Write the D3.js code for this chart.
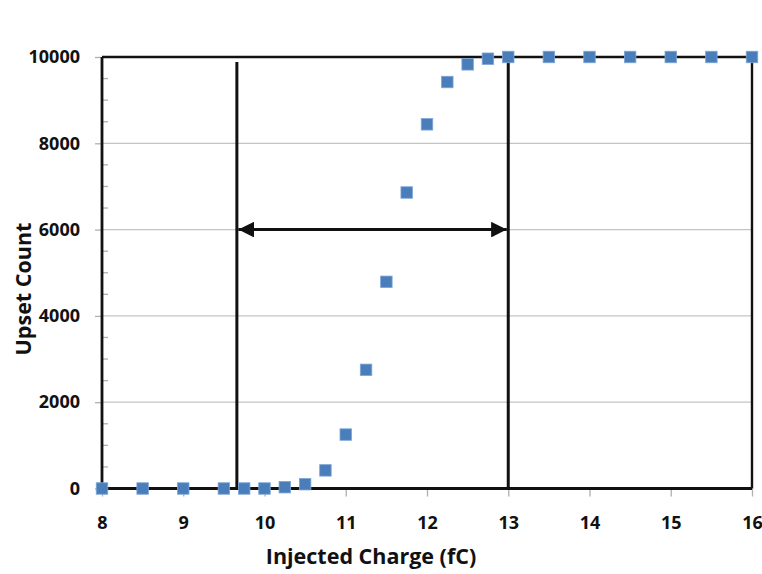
<!DOCTYPE html>
<html>
<head>
<meta charset="utf-8">
<script src="https://cdn.jsdelivr.net/npm/d3@7"></script>
<style>
  html, body { margin: 0; padding: 0; background: #fff; }
  svg { display: block; }
  text { font-family: "Open Sans", "DejaVu Sans", sans-serif; font-weight: bold; fill: #111; }
</style>
</head>
<body>
<svg id="chart" width="762" height="574"></svg>
<script>
// ---- data ----
const charge = [8, 8.5, 9, 9.5, 9.75, 10, 10.25, 10.5, 10.75, 11, 11.25, 11.5, 11.75, 12, 12.25, 12.5, 12.75, 13, 13.5, 14, 14.5, 15, 15.5, 16];
const upsets = [0, 0, 0, 0, 0, 0, 30, 100, 420, 1250, 2750, 4790, 6860, 8440, 9420, 9830, 9960, 10000, 10000, 10000, 10000, 10000, 10000, 10000];
const xTicks = [8, 9, 10, 11, 12, 13, 14, 15, 16];
const yTicks = [0, 2000, 4000, 6000, 8000, 10000];
const yMinorTicks = [500, 1000, 1500, 2500, 3000, 3500, 4500, 5000, 5500, 6500, 7000, 7500, 8500, 9000, 9500];
const markerLines = [9.66, 13];   // vertical annotation lines (fC)
const arrowLevel = 6000;          // level of the double arrow
const xTitle = "Injected Charge (fC)";
const yTitle = "Upset Count";

// ---- layout ----
const svg = d3.select("#chart");
const L = 102, R = 752, T = 57, B = 488.5;
const x = d3.scaleLinear().domain([8, 16]).range([L, R]);
const y = d3.scaleLinear().domain([0, 10000]).range([B, T]);

// gridlines
svg.append("g").selectAll("line").data(yTicks.filter(d => d > 0 && d < 10000)).join("line")
  .attr("x1", L).attr("x2", R).attr("y1", d => y(d)).attr("y2", d => y(d))
  .attr("stroke", "#c4c4c4").attr("stroke-width", 1.3);

// y axis (major ticks outside, labels)
const yAxis = d3.axisLeft(y).tickValues(yTicks).tickSize(7).tickPadding(15).tickFormat(d3.format("d"));
const gy = svg.append("g").attr("transform", `translate(${L},0)`).call(yAxis);
gy.select(".domain").remove();
gy.selectAll(".tick line").attr("stroke", "#b0b0b0").attr("stroke-width", 1.3);
gy.selectAll(".tick text").style("font-size", "18px").attr("font-family", null).attr("fill", "#111");

// y minor ticks inside
svg.append("g").selectAll("line").data(yMinorTicks).join("line")
  .attr("x1", L).attr("x2", L + 6).attr("y1", d => y(d)).attr("y2", d => y(d))
  .attr("stroke", "#b0b0b0").attr("stroke-width", 1.3);

// x axis
const xAxis = d3.axisBottom(x).tickValues(xTicks).tickSize(8).tickPadding(20).tickFormat(d3.format("d"));
const gx = svg.append("g").attr("transform", `translate(0,${B})`).call(xAxis);
gx.select(".domain").remove();
gx.selectAll(".tick line").attr("stroke", "#b0b0b0").attr("stroke-width", 1.3);
gx.selectAll(".tick text").style("font-size", "18px").attr("font-family", null).attr("fill", "#111");

// frame
svg.append("line").attr("x1", L).attr("x2", R).attr("y1", T).attr("y2", T).attr("stroke", "#111").attr("stroke-width", 2.4);
svg.append("line").attr("x1", R).attr("x2", R).attr("y1", T).attr("y2", B).attr("stroke", "#111").attr("stroke-width", 2.4);
svg.append("line").attr("x1", L).attr("x2", R).attr("y1", B).attr("y2", B).attr("stroke", "#111").attr("stroke-width", 2.8);
svg.append("line").attr("x1", L).attr("x2", L).attr("y1", T).attr("y2", B).attr("stroke", "#111").attr("stroke-width", 2.8);

// annotation vertical lines
svg.append("g").selectAll("line").data(markerLines).join("line")
  .attr("x1", d => x(d)).attr("x2", d => x(d))
  .attr("y1", (d, i) => i === 0 ? T + 5 : T).attr("y2", B)
  .attr("stroke", "#111").attr("stroke-width", 3);

// double arrow
const defs = svg.append("defs");
defs.append("marker").attr("id", "ah").attr("viewBox", "0 0 10 10").attr("refX", 10).attr("refY", 5)
  .attr("markerWidth", 5.2).attr("markerHeight", 5.2).attr("markerUnits", "strokeWidth").attr("orient", "auto-start-reverse")
  .append("path").attr("d", "M0,0 L10,5 L0,10 Z").attr("fill", "#111");
svg.append("line")
  .attr("x1", x(markerLines[0]) + 1.5).attr("x2", x(markerLines[1]) - 1.5)
  .attr("y1", y(arrowLevel)).attr("y2", y(arrowLevel))
  .attr("stroke", "#111").attr("stroke-width", 3)
  .attr("marker-start", "url(#ah)").attr("marker-end", "url(#ah)");

// data markers
const s = 11.5;
svg.append("g").selectAll("rect").data(charge.map((c, i) => [c, upsets[i]])).join("rect")
  .attr("x", d => x(d[0]) - s / 2).attr("y", d => y(d[1]) - s / 2)
  .attr("width", s).attr("height", s)
  .attr("fill", "#4a7ebb").attr("stroke", "#7fa6d6").attr("stroke-width", 0.8);

// axis titles
svg.append("text").attr("x", 371).attr("y", 564).attr("text-anchor", "middle")
  .style("font-size", "21.5px").text(xTitle);
svg.append("text").attr("transform", "translate(31,289) rotate(-90)").attr("text-anchor", "middle")
  .style("font-size", "21.5px").text(yTitle);
</script>
</body>
</html>
